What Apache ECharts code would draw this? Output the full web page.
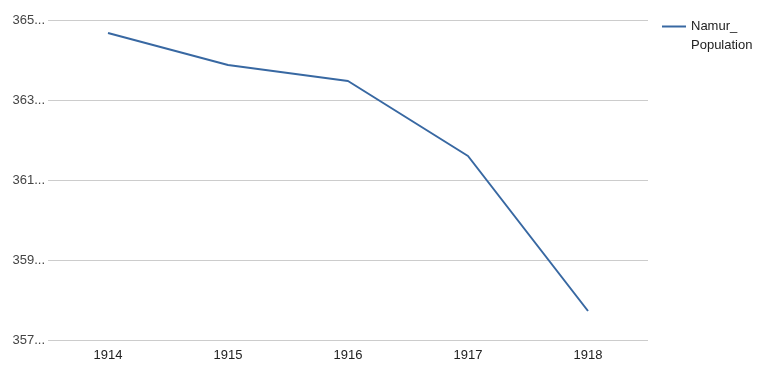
<!DOCTYPE html>
<html>
<head>
<meta charset="utf-8">
<script src="https://cdn.jsdelivr.net/npm/echarts@6/dist/echarts.min.js"></script>
<style>html,body{margin:0;padding:0;background:#fff}#c{width:765px;height:380px}</style>
</head>
<body>
<div id="c"></div>
<script>
var categories = ['1914', '1915', '1916', '1917', '1918'];
var populationValues = [364.675, 363.875, 363.475, 361.6, 357.725];
var seriesName = 'Namur_\nPopulation';
var yTickLabels = ['357...', '359...', '361...', '363...', '365...'];
var yMin = 357, yMax = 365;

var chart = echarts.init(document.getElementById('c'));
chart.setOption({
  animation: false,
  backgroundColor: '#fff',
  grid: {left: 48, right: 117, top: 20, bottom: 40},
  legend: {
    left: 662, top: -2, padding: 0,
    itemWidth: 24, itemHeight: 2, itemGap: 5,
    formatter: function (n) { return '\n' + n; },
    textStyle: {fontFamily: 'Liberation Sans, Arial', fontSize: 13, color: '#222', lineHeight: 19},
    data: [{name: seriesName, icon: 'rect'}]
  },
  xAxis: {
    type: 'category',
    data: categories,
    boundaryGap: true,
    axisLine: {show: false},
    axisTick: {show: false},
    axisLabel: {fontFamily: 'Liberation Sans, Arial', fontSize: 13, color: '#222', margin: 9}
  },
  yAxis: {
    type: 'value',
    min: yMin, max: yMax, interval: 1,
    axisLine: {show: false},
    axisTick: {show: false},
    axisLabel: {
      fontFamily: 'Liberation Sans, Arial', fontSize: 13, color: '#444', margin: 3,
      formatter: function (v) {
        var i = yTickLabels.findIndex(function (t) { return parseInt(t, 10) === Math.round(v); });
        return i >= 0 ? yTickLabels[i] : '';
      }
    },
    splitLine: {show: true, lineStyle: {color: ['#cccccc', 'rgba(0,0,0,0)'], width: 1}}
  },
  series: [{
    name: seriesName,
    type: 'line',
    data: populationValues,
    symbol: 'none',
    lineStyle: {color: '#3868a2', width: 2},
    itemStyle: {color: '#3868a2'}
  }]
});
</script>
</body>
</html>
